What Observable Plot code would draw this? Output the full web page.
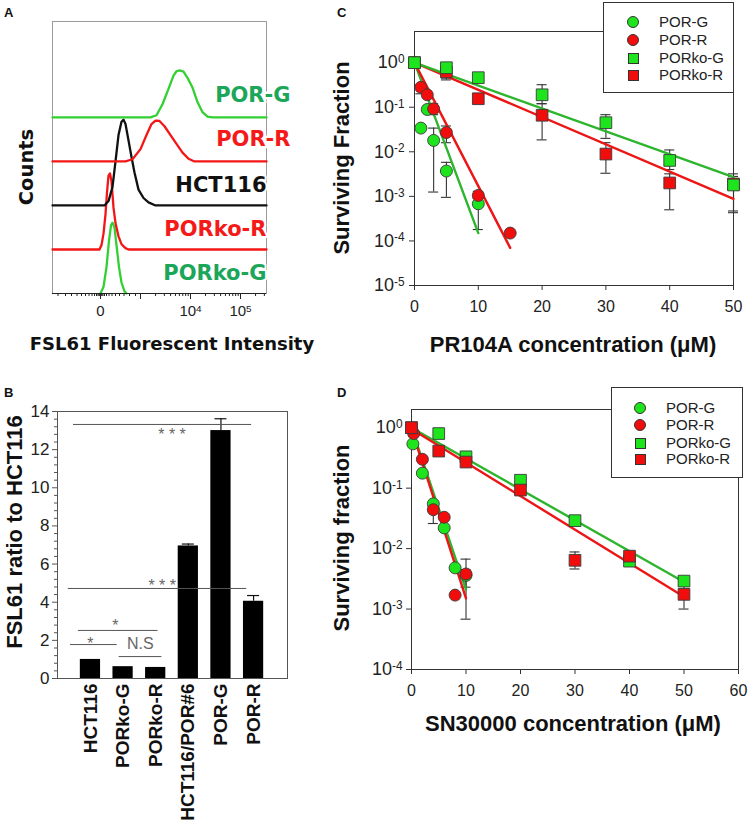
<!DOCTYPE html>
<html>
<head>
<meta charset="utf-8">
<script src="https://cdn.jsdelivr.net/npm/d3@7"></script>
<script src="https://cdn.jsdelivr.net/npm/@observablehq/plot@0.6"></script>
<style>
  html, body { margin: 0; padding: 0; background: #fff; }
  #fig { position: relative; width: 749px; height: 824px; overflow: hidden; background: #fff;
         font-family: "Liberation Sans", Arial, sans-serif; color: #111; }
  .panel { position: absolute; }
  .panel svg { overflow: visible; background: transparent; }
  .t { position: absolute; white-space: nowrap; transform: translate(-50%, -50%); font-weight: bold; line-height: 1; }
  .rot { transform: translate(-50%, -50%) rotate(-90deg); }
  .letter { position: absolute; font-weight: bold; font-size: 13px; line-height: 1; }
  .legend { position: absolute; box-sizing: border-box; border: 1px solid #333; background: #fff; z-index: 5; }
  .legend .item { position: absolute; font-size: 15px; line-height: 1; color: #222; white-space: nowrap; }
  .legend .mk { position: absolute; box-sizing: border-box; border: 1px solid #333; }
</style>
</head>
<body>
<div id="fig"></div>
<script>
// ================= DATA =================
// ---- Panel A: FSL61 flow histograms (x in display decades, height in stack units) ----
const aSamples = ["PORko-G", "PORko-R", "HCT116", "POR-R", "POR-G"]; // stacked bottom -> top
const aCurveColor = ["#33d033", "#f41616", "#111111", "#f41616", "#33d033"];
const aLabelColor = ["#1ca65a", "#f41a1a", "#111111", "#f41a1a", "#1ca65a"];
const aHistPORkoG = [[0,0],[0.06,0.15],[0.12,0.6],[0.17,1.2],[0.21,1.55],[0.24,1.61],[0.28,1.5],[0.32,1.1],[0.37,0.6],[0.42,0.25],[0.48,0.05],[0.52,0]];
const aHistPORkoR = [[-0.96,0],[-0.02,0],[0.02,0.1],[0.06,0.36],[0.10,0.8],[0.13,1.3],[0.16,1.68],[0.19,1.73],[0.22,1.55],[0.26,0.95],[0.30,0.6],[0.36,0.3],[0.42,0.12],[0.50,0.03],[0.56,0],[3.32,0]];
const aHistHCT116 = [[-0.96,0],[0.08,0],[0.16,0.1],[0.24,0.42],[0.30,1.0],[0.36,1.6],[0.42,1.9],[0.46,1.95],[0.50,1.85],[0.56,1.48],[0.62,1.1],[0.68,0.75],[0.76,0.36],[0.86,0.17],[0.96,0.07],[1.10,0],[3.32,0]];
const aHistPORR = [[-0.96,0],[0.50,0],[0.64,0.05],[0.80,0.28],[0.92,0.6],[1.02,0.85],[1.10,0.93],[1.18,0.92],[1.28,0.8],[1.40,0.6],[1.52,0.4],[1.64,0.2],[1.76,0.06],[1.88,0],[3.32,0]];
const aHistPORG = [[-0.96,0],[1.00,0],[1.12,0.05],[1.24,0.3],[1.36,0.65],[1.46,0.95],[1.52,1.05],[1.58,1.07],[1.66,1.04],[1.74,0.9],[1.84,0.68],[1.94,0.35],[2.04,0.12],[2.14,0.02],[2.24,0],[3.32,0]];
const aHists = [aHistPORkoG, aHistPORkoR, aHistHCT116, aHistPORR, aHistPORG];
const aMajorTicks = [0, 0.8, 1.8, 2.8];
const aMajorLabels = ["0", "", "10^4", "10^5"];
const aMinorTicks = [-0.85,-0.7,-0.58,-0.47,-0.38,-0.3,-0.23,-0.17,-0.12,-0.08,-0.05,-0.03,-0.015,0.015,0.03,0.05,0.08,0.12,0.17,0.23,0.3,0.38,0.47,0.58,0.7,
  1.101,1.277,1.402,1.499,1.578,1.645,1.703,1.754, 2.101,2.277,2.402,2.499,2.578,2.645,2.703,2.754, 3.101,3.277];

// ---- Panel B: FSL61 ratio to HCT116 ----
const bCells = ["HCT116", "PORko-G", "PORko-R", "HCT116/POR#6", "POR-G", "POR-R"];
const bRatio = [1.0, 0.62, 0.58, 6.95, 13.0, 4.05];
const bErr   = [0, 0, 0, 0.1, 0.62, 0.3];
const bMajorTicks = [0, 2, 4, 6, 8, 10, 12, 14];
const bMinorTicks = [0.4,0.8,1.2,1.6,2.4,2.8,3.2,3.6,4.4,4.8,5.2,5.6,6.4,6.8,7.2,7.6,8.4,8.8,9.2,9.6,10.4,10.8,11.2,11.6,12.4,12.8,13.2,13.6];
// significance brackets: x1/x2/tx in category-index units, y/ty in ratio units
const bSigLines = [
  {x1: -0.52, x2: 4.94, y: 13.32},
  {x1: -0.68, x2: 4.79, y: 4.72},
  {x1: -0.37, x2: 2.07, y: 2.52},
  {x1: -0.61, x2: 0.82, y: 1.78},
  {x1: 0.88,  x2: 2.19, y: 1.15}
];
const bSigText = [
  {label: "* * *", tx: 2.5,  ty: 12.5},
  {label: "* * *", tx: 2.2,  ty: 4.6},
  {label: "*",     tx: 0.76, ty: 2.5},
  {label: "*",     tx: 0.0,  ty: 1.56},
  {label: "N.S",   tx: 1.53, ty: 1.55}
];

// ---- Panel C: PR104A clonogenic survival ----
const seriesNames = ["POR-G", "POR-R", "PORko-G", "PORko-R"];
const seriesFill = {"POR-G": "#1ee41e", "POR-R": "#f20d0d", "PORko-G": "#1ee41e", "PORko-R": "#f20d0d"};
const seriesLine = {"POR-G": "#2db52d", "POR-R": "#ec1616", "PORko-G": "#2db52d", "PORko-R": "#ec1616"};
const seriesSymbol = {"POR-G": "circle", "POR-R": "circle", "PORko-G": "square", "PORko-R": "square"};

const cPORG = [
  {c: 0, sf: 1}, {c: 1, sf: 0.034}, {c: 2, sf: 0.089},
  {c: 3, sf: 0.018, lo: 0.00125, hi: 0.034},
  {c: 5, sf: 0.0037, lo: 0.00095, hi: 0.0058},
  {c: 10, sf: 0.00068, lo: 0.00018, hi: 0.0009}
];
const cPORR = [
  {c: 0, sf: 1}, {c: 1, sf: 0.28, lo: 0.2, hi: 0.3}, {c: 2, sf: 0.19},
  {c: 3, sf: 0.092, lo: 0.068, hi: 0.12},
  {c: 5, sf: 0.027, lo: 0.016, hi: 0.038},
  {c: 10, sf: 0.00105, lo: 0.0009, hi: 0.0013},
  {c: 15, sf: 0.00015}
];
const cPORkoG = [
  {c: 0, sf: 1}, {c: 5, sf: 0.77, lo: 0.45, hi: 0.85}, {c: 10, sf: 0.46},
  {c: 20, sf: 0.19, lo: 0.12, hi: 0.32},
  {c: 30, sf: 0.045, lo: 0.02, hi: 0.068},
  {c: 40, sf: 0.0064, lo: 0.004, hi: 0.011},
  {c: 50, sf: 0.0018, lo: 0.00043, hi: 0.0032}
];
const cPORkoR = [
  {c: 0, sf: 1}, {c: 5, sf: 0.62, lo: 0.41, hi: 0.75}, {c: 10, sf: 0.155},
  {c: 20, sf: 0.066, lo: 0.0185, hi: 0.12},
  {c: 30, sf: 0.0089, lo: 0.0033, hi: 0.016},
  {c: 40, sf: 0.002, lo: 0.0005, hi: 0.0032},
  {c: 50, sf: 0.0019, lo: 0.00047, hi: 0.0028}
];
const cFitPORG   = [{c: 0, sf: 1}, {c: 10, sf: 1.5e-4}];
const cFitPORR   = [{c: 0, sf: 1}, {c: 15, sf: 7e-5}];
const cFitPORkoG = [{c: 0, sf: 1}, {c: 50, sf: 2.7e-3}];
const cFitPORkoR = [{c: 0, sf: 1}, {c: 50, sf: 8.8e-4}];
const cXTicks = [0, 10, 20, 30, 40, 50];
const cYTicks = [1e-5, 1e-4, 1e-3, 1e-2, 1e-1, 1];

// ---- Panel D: SN30000 clonogenic survival ----
const dPORG = [
  {c: 0.25, sf: 0.54}, {c: 2, sf: 0.177}, {c: 4, sf: 0.055}, {c: 6, sf: 0.022},
  {c: 8, sf: 0.0048}, {c: 10, sf: 0.0036, lo: 0.0023, hi: 0.0045}
];
const dPORR = [
  {c: 0.4, sf: 0.8}, {c: 2, sf: 0.3}, {c: 4, sf: 0.044, lo: 0.026, hi: 0.05},
  {c: 6, sf: 0.033}, {c: 8, sf: 0.0017}, {c: 10, sf: 0.0038, lo: 0.00068, hi: 0.0067}
];
const dPORkoG = [
  {c: 0, sf: 1}, {c: 5, sf: 0.8}, {c: 10, sf: 0.33}, {c: 20, sf: 0.135},
  {c: 30, sf: 0.029}, {c: 40, sf: 0.0062}, {c: 50, sf: 0.0029, lo: 0.0024, hi: 0.0034}
];
const dPORkoR = [
  {c: 0, sf: 1}, {c: 5, sf: 0.41}, {c: 10, sf: 0.27}, {c: 20, sf: 0.093},
  {c: 30, sf: 0.0064, lo: 0.0046, hi: 0.0088}, {c: 40, sf: 0.0075, lo: 0.0065, hi: 0.0085},
  {c: 50, sf: 0.00175, lo: 0.001, hi: 0.0025}
];
const dFitPORG   = [{c: 0, sf: 1}, {c: 10, sf: 0.0021}];
const dFitPORR   = [{c: 0, sf: 0.95}, {c: 10, sf: 0.0015}];
const dFitPORkoG = [{c: 0, sf: 1}, {c: 50, sf: 0.0028}];
const dFitPORkoR = [{c: 0, sf: 0.95}, {c: 50, sf: 0.0016}];
const dXTicks = [0, 10, 20, 30, 40, 50, 60];
const dYTicks = [1e-4, 1e-3, 1e-2, 1e-1, 1];

// ================= HELPERS =================
const fig = document.getElementById("fig");
const FONT = "Liberation Sans, Arial, sans-serif";
const SVGNS = "http://www.w3.org/2000/svg";

function place(node, left, top) {
  const d = document.createElement("div");
  d.className = "panel";
  d.style.left = left + "px";
  d.style.top = top + "px";
  d.appendChild(node);
  fig.appendChild(d);
  return d;
}
function supify(svg) {
  svg.querySelectorAll("text").forEach(t => {
    const m = /^10\^(-?\d+)$/.exec(t.textContent);
    if (!m) return;
    t.textContent = "";
    const a = document.createElementNS(SVGNS, "tspan"); a.textContent = "10"; t.appendChild(a);
    const b = document.createElementNS(SVGNS, "tspan"); b.textContent = m[1];
    b.setAttribute("dy", "-0.45em"); b.setAttribute("font-size", "0.66em"); t.appendChild(b);
  });
}
function label(text, x, y, size, opts = {}) {
  const d = document.createElement("div");
  d.className = "t" + (opts.rot ? " rot" : "");
  d.textContent = text;
  d.style.left = x + "px"; d.style.top = y + "px";
  d.style.fontSize = size + "px";
  if (opts.font) d.style.fontFamily = opts.font;
  fig.appendChild(d);
}
function letter(text, x, y) {
  const d = document.createElement("div");
  d.className = "letter"; d.textContent = text;
  d.style.left = x + "px"; d.style.top = y + "px";
  fig.appendChild(d);
}
function legend(left, top, w, h, mx, tx, rows) {
  const box = document.createElement("div");
  box.className = "legend";
  Object.assign(box.style, {left: left + "px", top: top + "px", width: w + "px", height: h + "px"});
  seriesNames.forEach((name, i) => {
    const cy = rows[i];
    const mk = document.createElement("div");
    mk.className = "mk";
    const circ = seriesSymbol[name] === "circle";
    const s = circ ? 12 : 11;
    Object.assign(mk.style, {left: (mx - s / 2) + "px", top: (cy - s / 2) + "px", width: s + "px", height: s + "px",
      background: seriesFill[name], borderRadius: circ ? "50%" : "0"});
    box.appendChild(mk);
    const it = document.createElement("div");
    it.className = "item"; it.textContent = name;
    Object.assign(it.style, {left: tx + "px", top: (cy - 8) + "px"});
    box.appendChild(it);
  });
  fig.appendChild(box);
}
function survivalMarks(seriesData, fits, order) {
  const errs = [];
  for (const name of seriesNames) for (const d of seriesData[name]) if (d.lo != null) errs.push(d);
  const marks = [
    Plot.ruleX(errs, {x: "c", y1: "lo", y2: "hi", stroke: "#333", strokeWidth: 1.1}),
    Plot.ruleY(errs, {y: "lo", x1: "c", x2: "c", insetLeft: -5, insetRight: -5, stroke: "#333", strokeWidth: 1.1}),
    Plot.ruleY(errs, {y: "hi", x1: "c", x2: "c", insetLeft: -5, insetRight: -5, stroke: "#333", strokeWidth: 1.1})
  ];
  for (const name of order) {
    marks.push(Plot.line(fits[name], {x: "c", y: "sf", stroke: seriesLine[name], strokeWidth: 2.4}));
  }
  for (const name of order) {
    const circ = seriesSymbol[name] === "circle";
    marks.push(Plot.dot(seriesData[name], {x: "c", y: "sf", symbol: seriesSymbol[name], r: circ ? 6 : 6.6,
      fill: seriesFill[name], stroke: "#3a3a3a", strokeWidth: 0.9}));
  }
  return marks;
}

// ================= PANEL A =================
const aTable = aHists.flatMap((pts, k) => pts.map(([u, h]) => ({sample: aSamples[k], k, u, level: k + h})));
const plotA = Plot.plot({
  width: 370, height: 360,
  marginLeft: 52, marginRight: 104, marginTop: 21, marginBottom: 67,
  x: {domain: [-0.96, 3.32], label: null},
  y: {domain: [0, 6.18], label: null, axis: null},
  color: {type: "identity"},
  style: {fontFamily: FONT, background: "transparent", overflow: "visible", color: "#222"},
  marks: [
    Plot.frame({stroke: "#9a9a9a", strokeWidth: 1}),
    Plot.line(aTable, {x: "u", y: "level", z: "sample", stroke: d => aCurveColor[d.k], strokeWidth: 2.3}),
    Plot.ruleY([0], {stroke: "#222", strokeWidth: 1.2}),
    Plot.axisX(aMinorTicks, {tickSize: 3, tickFormat: () => "", stroke: "#222"}),
    Plot.axisX(aMajorTicks, {tickSize: 6, tickPadding: 6, fontSize: 15, stroke: "#222",
      tickFormat: d => aMajorLabels[aMajorTicks.indexOf(d)]}),
    Plot.text(aSamples, {y: (d, i) => i + 0.47, text: d => d, frameAnchor: "right", textAnchor: "end",
      dx: 0, filter: (d, i) => i < 3, fill: (d, i) => aLabelColor[i], fontSize: 21, fontWeight: "bold",
      fontFamily: "DejaVu Sans", stroke: "white", strokeWidth: 4, paintOrder: "stroke"}),
    Plot.text(aSamples, {y: (d, i) => i + 0.5, text: d => d, frameAnchor: "right", textAnchor: "end",
      dx: 24, filter: (d, i) => i >= 3, fill: (d, i) => aLabelColor[i], fontSize: 21, fontWeight: "bold",
      fontFamily: "DejaVu Sans", stroke: "white", strokeWidth: 5, paintOrder: "stroke"})
  ]
});
supify(plotA);
place(plotA, 0, 0);

// ================= PANEL B =================
const bTable = bCells.map((cell, i) => ({cell, i, ratio: bRatio[i], err: bErr[i]}));
const bErrRows = bTable.filter(d => d.err > 0);
const BAR_HALF = 0.31;
const plotB = Plot.plot({
  width: 370, height: 429,
  marginLeft: 57, marginRight: 83, marginTop: 16, marginBottom: 146,
  x: {domain: [-1.01, 6.04], label: null},
  y: {domain: [0, 14], label: null},
  style: {fontFamily: FONT, background: "transparent", overflow: "visible", color: "#222"},
  marks: [
    Plot.frame({stroke: "#555", strokeWidth: 1}),
    Plot.axisY(bMinorTicks, {tickSize: 3, tickFormat: () => "", stroke: "#555"}),
    Plot.axisY(bMajorTicks, {tickSize: 5, tickPadding: 3, fontSize: 17, stroke: "#555"}),
    Plot.axisX(bTable.map(d => d.i), {tickSize: 0, tickPadding: 5, tickRotate: -90, textAnchor: "end",
      tickFormat: i => bCells[i], fontSize: 19, fontWeight: "bold", fill: "#111"}),
    Plot.rectY(bTable, {x1: d => d.i - BAR_HALF, x2: d => d.i + BAR_HALF, y1: 0, y2: "ratio", fill: "#000"}),
    Plot.ruleX(bErrRows, {x: "i", y1: "ratio", y2: d => d.ratio + d.err, stroke: "#111", strokeWidth: 1.2}),
    Plot.ruleY(bErrRows, {y: d => d.ratio + d.err, x1: "i", x2: "i", insetLeft: -6, insetRight: -6, stroke: "#111", strokeWidth: 1.2}),
    Plot.ruleY(bSigLines, {y: "y", x1: "x1", x2: "x2", stroke: "#555", strokeWidth: 1}),
    Plot.text(bSigText, {x: "tx", y: "ty", text: "label", lineAnchor: "bottom", fontSize: 16, fill: "#666"})
  ]
});
place(plotB, 0, 395);

// ================= PANEL C =================
const cData = {"POR-G": cPORG, "POR-R": cPORR, "PORko-G": cPORkoG, "PORko-R": cPORkoR};
const cFits = {"POR-G": cFitPORG, "POR-R": cFitPORR, "PORko-G": cFitPORkoG, "PORko-R": cFitPORkoR};
const plotC = Plot.plot({
  width: 379, height: 395,
  marginLeft: 44, marginRight: 16, marginTop: 31, marginBottom: 110,
  x: {domain: [0, 50], label: null},
  y: {type: "log", domain: [1e-5, 5], label: null},
  style: {fontFamily: FONT, background: "transparent", overflow: "visible", color: "#222"},
  marks: [
    Plot.frame({stroke: "#333", strokeWidth: 1}),
    Plot.axisY(cYTicks, {tickSize: 5, tickPadding: 5, fontSize: 18, stroke: "#333",
      tickFormat: d => "10^" + Math.round(Math.log10(d))}),
    Plot.axisX(cXTicks, {tickSize: 5, tickPadding: 10, fontSize: 16, stroke: "#333"}),
    ...survivalMarks(cData, cFits, ["POR-G", "POR-R", "PORko-R", "PORko-G"])
  ]
});
supify(plotC);
place(plotC, 370, 0);

// ================= PANEL D =================
const dData = {"POR-G": dPORG, "POR-R": dPORR, "PORko-G": dPORkoG, "PORko-R": dPORkoR};
const dFits = {"POR-G": dFitPORG, "POR-R": dFitPORR, "PORko-G": dFitPORkoG, "PORko-R": dFitPORkoR};
const plotD = Plot.plot({
  width: 379, height: 429,
  marginLeft: 41, marginRight: 11, marginTop: 14, marginBottom: 155,
  x: {domain: [0, 60], label: null},
  y: {type: "log", domain: [1e-4, 2], label: null},
  style: {fontFamily: FONT, background: "transparent", overflow: "visible", color: "#222"},
  marks: [
    Plot.frame({stroke: "#333", strokeWidth: 1}),
    Plot.axisY(dYTicks, {tickSize: 5, tickPadding: 4, fontSize: 18, stroke: "#333",
      tickFormat: d => "10^" + Math.round(Math.log10(d))}),
    Plot.axisX(dXTicks, {tickSize: 5, tickPadding: 10, fontSize: 16, stroke: "#333"}),
    ...survivalMarks(dData, dFits, ["POR-G", "POR-R", "PORko-G", "PORko-R"])
  ]
});
supify(plotD);
place(plotD, 370, 395);

// ================= TEXT & LEGENDS =================
letter("A", 4, 6); letter("B", 4, 386); letter("C", 337, 6); letter("D", 337, 386);
label("Counts", 27, 167, 19.5, {rot: true, font: "DejaVu Sans"});
label("FSL61 Fluorescent Intensity", 172, 344, 18, {font: "DejaVu Sans"});
label("FSL61 ratio to HCT116", 15, 532, 22, {rot: true});
label("Surviving Fraction", 342, 158, 22, {rot: true});
label("PR104A concentration (\u03bcM)", 573, 345, 22);
label("Surviving fraction", 342, 538, 22, {rot: true});
label("SN30000 concentration (\u03bcM)", 573, 724, 22);
legend(603, 2, 131, 91, 29, 55, [19, 37, 55, 72]);
legend(611, 387, 132, 91, 28, 54, [20, 37, 55, 71]);
</script>
</body>
</html>
